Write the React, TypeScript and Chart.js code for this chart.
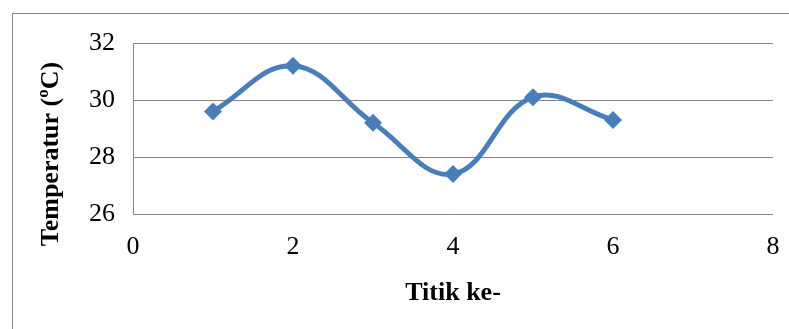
import React, { useEffect, useRef } from "react";
import { Chart, registerables } from "chart.js";

Chart.register(...registerables);

const titikKe = [1, 2, 3, 4, 5, 6];
const temperatur = [29.6, 31.2, 29.2, 27.4, 30.1, 29.3];
const xTitle = "Titik ke-";
const yTitle = "Temperatur (ºC)";

const GRAY = "#868686";
const BLUE = "#4A7EBB";
const FONT = "'Liberation Serif', 'Times New Roman', serif";

const titlePlugin = {
  id: "titles",
  afterDraw(chart: any) {
    const { ctx, chartArea } = chart;
    ctx.save();
    ctx.fillStyle = "#000";
    ctx.font = `bold 26px ${FONT}`;
    ctx.textAlign = "center";
    ctx.textBaseline = "middle";
    ctx.fillText(xTitle, (chartArea.left + chartArea.right) / 2, chartArea.bottom + 79);
    ctx.translate(chartArea.left - 82, chartArea.bottom - 60);
    ctx.rotate(-Math.PI / 2);
    ctx.fillText(yTitle, 0, 0);
    ctx.restore();
  },
};

export default function App() {
  const ref = useRef<HTMLCanvasElement>(null);
  useEffect(() => {
    document.body.style.margin = "0";
    const chart = new Chart(ref.current!, {
      type: "scatter",
      data: {
        datasets: [
          {
            data: titikKe.map((x, i) => ({ x, y: temperatur[i] })),
            showLine: true,
            tension: 0.4,
            borderColor: BLUE,
            backgroundColor: BLUE,
            borderWidth: 5,
            pointStyle: "rectRot",
            pointRadius: 9,
            pointBorderWidth: 0,
            pointBackgroundColor: BLUE,
          },
        ],
      },
      options: {
        animation: false,
        responsive: false,
        layout: { padding: { left: 0, top: 43, right: 16, bottom: 0 } },
        plugins: { legend: { display: false }, tooltip: { enabled: false } },
        scales: {
          x: {
            type: "linear",
            min: 0,
            max: 8,
            ticks: { stepSize: 2, color: "#000", font: { family: FONT, size: 26 }, padding: 18 },
            grid: { display: false, drawTicks: false },
            border: { display: false },
            afterFit: (s: any) => {
              s.height = 115;
              s.paddingRight = 0;
              s.paddingLeft = 0;
            },
          },
          y: {
            min: 26,
            max: 32,
            ticks: { stepSize: 2, color: "#000", font: { family: FONT, size: 26 }, padding: 18 },
            grid: { color: GRAY, lineWidth: 1, drawTicks: false },
            border: { display: true, color: GRAY, width: 1 },
            afterFit: (s: any) => {
              s.width = 133;
              s.paddingTop = 0;
              s.paddingBottom = 0;
            },
          },
        },
      },
      plugins: [titlePlugin],
    });
    return () => chart.destroy();
  }, []);
  return (
    <div style={{ position: "relative", width: 789, height: 329, overflow: "hidden", background: "#fff" }}>
      <div
        style={{
          position: "absolute",
          left: 12,
          top: 13,
          width: 820,
          height: 400,
          border: `1px solid ${GRAY}`,
        }}
      />
      <canvas ref={ref} width={789} height={329} style={{ position: "absolute", left: 0, top: 0 }} />
    </div>
  );
}
